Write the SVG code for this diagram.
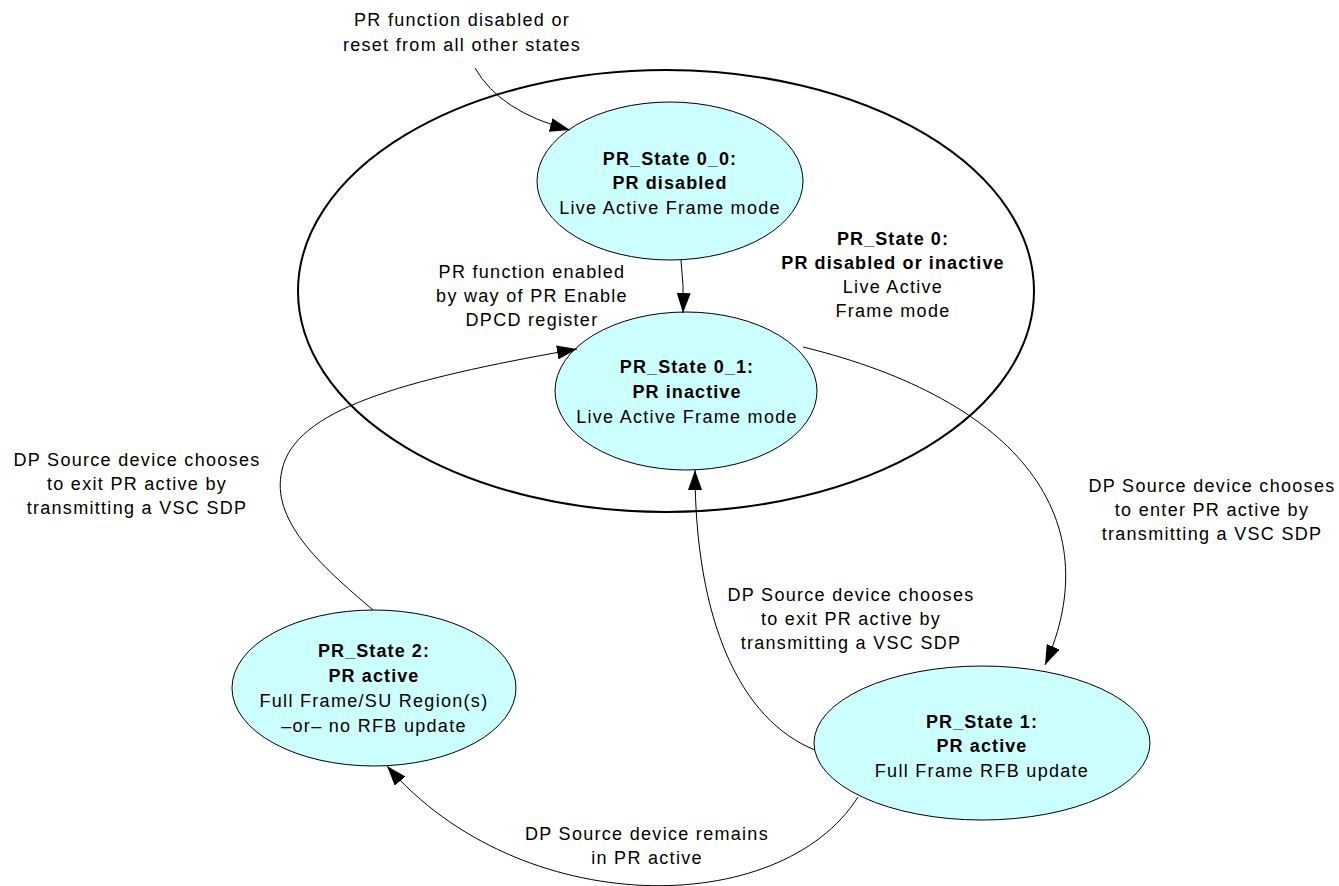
<svg xmlns="http://www.w3.org/2000/svg" width="1339" height="886" viewBox="0 0 1339 886">
  <style>
    text { font-family: "Liberation Sans", Arial, sans-serif; font-size: 18px; fill: #000; text-anchor: middle; letter-spacing: 1.3px; }
    .b { font-weight: bold; letter-spacing: 1.1px; }
    .state { fill: #CCFFFF; stroke: #000; stroke-width: 1; }
    .outer { fill: none; stroke: #000; stroke-width: 2; }
    .edge { fill: none; stroke: #000; stroke-width: 1; marker-end: url(#arrow); }
  </style>
  <defs>
    <marker id="arrow" markerUnits="userSpaceOnUse" markerWidth="22" markerHeight="14" viewBox="0 0 22 14" refX="20" refY="7" orient="auto">
      <path d="M0,0 L20,7 L0,14 Z" fill="#000"/>
    </marker>
  </defs>
  <rect width="1339" height="886" fill="#fff"/>

  <!-- composite state PR_State 0 -->
  <g id="pr-state-0">
    <ellipse class="outer" cx="666" cy="291" rx="368" ry="221"/>
    <text x="893" y="245" class="b">PR_State 0:</text>
    <text x="893" y="269" class="b">PR disabled or inactive</text>
    <text x="893" y="293">Live Active</text>
    <text x="893" y="317">Frame mode</text>
  </g>

  <g id="pr-state-0-0">
    <ellipse class="state" cx="670" cy="181" rx="133" ry="79"/>
    <text x="670" y="165" class="b">PR_State 0_0:</text>
    <text x="670" y="189" class="b">PR disabled</text>
    <text x="670" y="214">Live Active Frame mode</text>
  </g>

  <g id="pr-state-0-1">
    <ellipse class="state" cx="686" cy="391" rx="131" ry="79"/>
    <text x="687" y="373" class="b">PR_State 0_1:</text>
    <text x="687" y="398" class="b">PR inactive</text>
    <text x="687" y="423">Live Active Frame mode</text>
  </g>

  <g id="pr-state-2">
    <ellipse class="state" cx="374" cy="688" rx="142" ry="78"/>
    <text x="374" y="657" class="b">PR_State 2:</text>
    <text x="374" y="682" class="b">PR active</text>
    <text x="374" y="707">Full Frame/SU Region(s)</text>
    <text x="374" y="732">–or– no RFB update</text>
  </g>

  <g id="pr-state-1">
    <ellipse class="state" cx="982" cy="743" rx="168" ry="77"/>
    <text x="982" y="728" class="b">PR_State 1:</text>
    <text x="982" y="752" class="b">PR active</text>
    <text x="982" y="777">Full Frame RFB update</text>
  </g>

  <!-- transitions -->
  <g id="connectors">
    <path class="edge" d="M475,68 Q500,112 570,130"/>
    <path class="edge" d="M681,260 Q684,285 683,313"/>
    <path class="edge" d="M373,610 C320,565 270,520 282,470 C295,410 400,380 577,349"/>
    <path class="edge" d="M803,347 C1020,400 1110,520 1045,665"/>
    <path class="edge" d="M815,750 C740,720 695,620 695,470"/>
    <path class="edge" d="M858,797 C780,920 520,920 387,766"/>
  </g>

  <!-- transition labels -->
  <g id="labels">
    <text x="462" y="26">PR function disabled or</text>
    <text x="462" y="51">reset from all other states</text>
    <text x="532" y="278">PR function enabled</text>
    <text x="532" y="302">by way of PR Enable</text>
    <text x="532" y="326">DPCD register</text>
    <text x="137" y="466">DP Source device chooses</text>
    <text x="137" y="490">to exit PR active by</text>
    <text x="137" y="514">transmitting a VSC SDP</text>
    <text x="851" y="601">DP Source device chooses</text>
    <text x="851" y="625">to exit PR active by</text>
    <text x="851" y="649">transmitting a VSC SDP</text>
    <text x="1212" y="492">DP Source device chooses</text>
    <text x="1212" y="516">to enter PR active by</text>
    <text x="1212" y="540">transmitting a VSC SDP</text>
    <text x="647" y="840">DP Source device remains</text>
    <text x="647" y="864">in PR active</text>
  </g>
</svg>
